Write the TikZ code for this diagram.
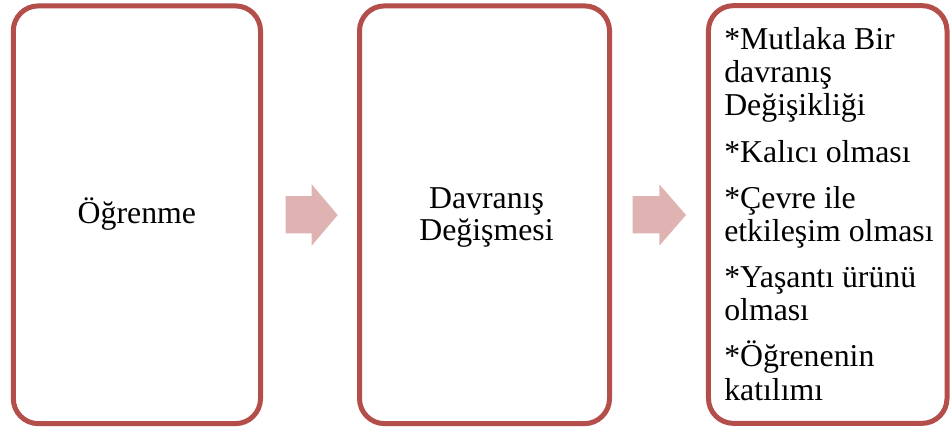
\documentclass[tikz,border=0pt]{standalone}
\usepackage{fontspec}
\setmainfont{Liberation Serif}
\begin{document}
\begin{tikzpicture}[x=0.75pt,y=-0.75pt,
  box/.style={draw=boxred, line width=3.75pt, rounded corners=18.75pt,
    fill=white, minimum height=313.3pt, inner sep=0pt},
  txt/.style={font=\fontsize{23.85pt}{24pt}\selectfont, inner sep=0pt},
  blockarrow/.style={fill=arrowpink, draw=none}]
\definecolor{boxred}{RGB}{180,78,74}
\definecolor{arrowpink}{RGB}{223,179,178}
\useasboundingbox (0,0) rectangle (950,430);

% three panels
\node[box, minimum width=185.4pt] (b1) at (136.9,214.75) {};
\node[box, minimum width=187.5pt] (b2) at (484.5,214.75) {};
\node[box, minimum width=178.9pt] (b3) at (827.75,214.5) {};

% block arrows between the panels
\fill[blockarrow] (285.7,196) -- (311.7,196) -- (311.7,184.3) -- (337.7,215)
  -- (311.7,245.7) -- (311.7,233.3) -- (285.7,233.3) -- cycle;
\fill[blockarrow] (632.7,196) -- (659.3,196) -- (659.3,184.3) -- (686,215)
  -- (659.3,245.7) -- (659.3,233.3) -- (632.7,233.3) -- cycle;

% panel labels
\node[txt, anchor=base] (t1) at (136.9,223.3) {Öğrenme};
\node[txt, anchor=base] (t2a) at (486.5,208.3) {Davranış};
\node[txt, anchor=base] (t2b) at (486.5,240) {Değişmesi};

% list in the last panel
\node[txt, anchor=base west] (l1) at (724,49) {*Mutlaka Bir};
\node[txt, anchor=base west] (l2) at (724,82) {davranış};
\node[txt, anchor=base west] (l3) at (724,115) {Değişikliği};
\node[txt, anchor=base west] (l4) at (724,162) {*Kalıcı olması};
\node[txt, anchor=base west] (l5) at (724,208.7) {*Çevre ile};
\node[txt, anchor=base west] (l6) at (724,241.7) {etkileşim olması};
\node[txt, anchor=base west] (l7) at (724,287) {*Yaşantı ürünü};
\node[txt, anchor=base west] (l8) at (724,320) {olması};
\node[txt, anchor=base west] (l9) at (724,366.7) {*Öğrenenin};
\node[txt, anchor=base west] (l10) at (724,400) {katılımı};
\end{tikzpicture}
\end{document}
